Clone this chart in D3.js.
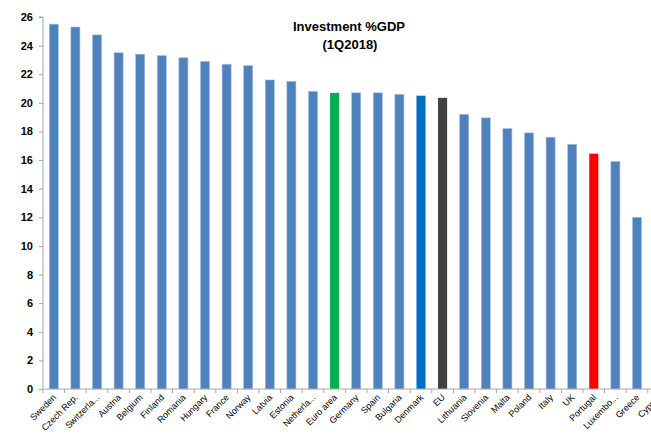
<!DOCTYPE html>
<html lang="en">
<head>
	<meta charset="utf-8">
	<style>
		body { margin: 0; background: white; }
		svg { font-family: 'Liberation Sans', Arial, sans-serif; }
		.axis path, .axis line { stroke: #a6a6a6; }
		.axis-y text { font-weight: bold; font-size: 11px; fill: #000; }
		.axis-x text { font-size: 9px; fill: #000; }
		text.title { font-weight: bold; font-size: 13px; }
	</style>
</head>
<body>
	<svg width=651 height=436></svg>
	<script src="https://d3js.org/d3.v7.min.js"></script>
	<script>
		// data
		const countries = ["Sweden", "Czech Rep.", "Switzerla...", "Austria", "Belgium", "Finland", "Romania",
			"Hungary", "France", "Norway", "Latvia", "Estonia", "Netherla...", "Euro area", "Germany", "Spain",
			"Bulgaria", "Denmark", "EU", "Lithuania", "Slovenia", "Malta", "Poland", "Italy", "UK", "Portugal",
			"Luxembo...", "Greece", "Cyprus"]
		const investment = [25.5, 25.3, 24.75, 23.5, 23.4, 23.3, 23.15, 22.9, 22.7, 22.6, 21.6, 21.5, 20.8,
			20.7, 20.7, 20.7, 20.6, 20.5, 20.35, 19.2, 18.95, 18.2, 17.9, 17.6, 17.1, 16.45, 15.9, 12.0, 9.6]
		const highlight = { "Euro area": "#00B050", "Denmark": "#0070C0", "EU": "#404040", "Portugal": "#FF0000" }
		const yTicks = [0, 2, 4, 6, 8, 10, 12, 14, 16, 18, 20, 22, 24, 26]

		const margin = { left: 43, top: 17, bottom: 47 }
		const step = 21.6
		const height = 436

		const svg = d3.select("svg")

		const x = d3.scaleBand()
			.domain(countries)
			.range([margin.left, margin.left + countries.length * step])
			.paddingInner(0.58)
			.paddingOuter(0.29)

		const y = d3.scaleLinear()
			.domain([0, 26])
			.range([height - margin.bottom, margin.top])

		// bars
		svg.append("g")
			.selectAll("rect")
			.data(countries)
			.join("rect")
			.attr("x", d => x(d))
			.attr("width", x.bandwidth())
			.attr("y", (d, i) => y(investment[i]))
			.attr("height", (d, i) => y(0) - y(investment[i]))
			.attr("fill", d => highlight[d] || "#4F81BD")
			.attr("stroke", d => highlight[d] ? "none" : "#a7c0e0")
			.attr("stroke-width", 0.6)

		// y axis
		const yAxis = d3.axisLeft(y).tickValues(yTicks).tickSize(4).tickPadding(6)
		svg.append("g")
			.attr("class", "axis axis-y")
			.attr("transform", "translate(" + margin.left + ",0)")
			.call(yAxis)
			.call(g => g.select(".domain").attr("d", "M-4," + y(26) + "H0V" + y(0)))

		// x axis: ticks between categories
		const xg = svg.append("g")
			.attr("class", "axis axis-x")
			.attr("transform", "translate(0," + y(0) + ")")
		xg.append("line")
			.attr("x1", margin.left).attr("x2", margin.left + countries.length * step)
		xg.selectAll("line.tick")
			.data(d3.range(countries.length + 1))
			.join("line")
			.attr("class", "tick")
			.attr("x1", i => margin.left + i * step)
			.attr("x2", i => margin.left + i * step)
			.attr("y2", 4)
		xg.selectAll("text")
			.data(countries)
			.join("text")
			.attr("text-anchor", "end")
			.attr("transform", d => "translate(" + (x(d) + x.bandwidth() / 2 + 3) + ",9) rotate(-45)")
			.text(d => d)

		// title
		svg.append("text").attr("class", "title")
			.attr("x", 349).attr("y", 31).attr("text-anchor", "middle")
			.text("Investment %GDP")
		svg.append("text").attr("class", "title")
			.attr("x", 350).attr("y", 49).attr("text-anchor", "middle")
			.text("(1Q2018)")
	</script>
</body>
</html>
